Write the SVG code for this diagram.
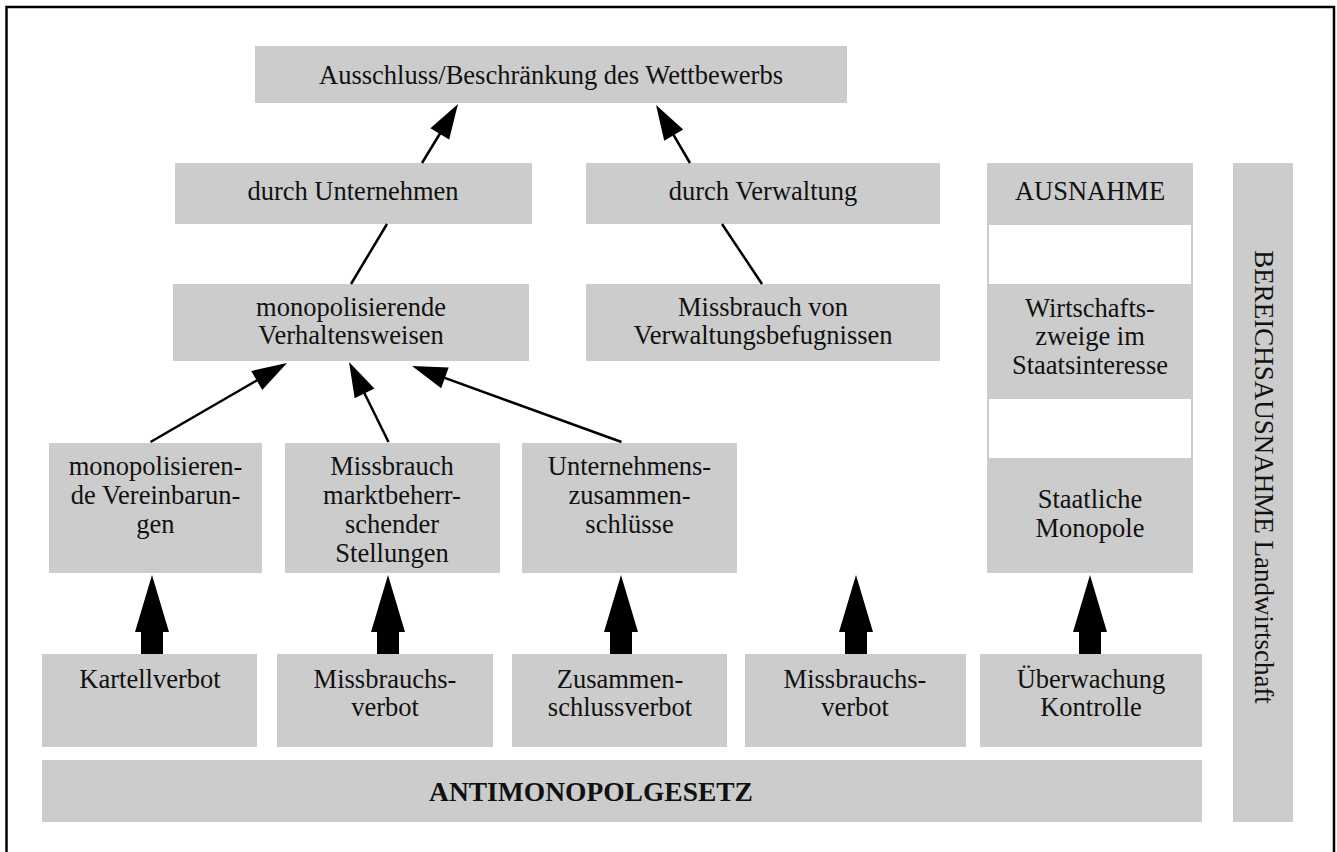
<svg xmlns="http://www.w3.org/2000/svg" xmlns:xlink="http://www.w3.org/1999/xlink" width="1337" height="852" viewBox="0 0 1337 852">
<style>
.box{fill:#cccccc}
.t{font-family:"Liberation Serif","Times New Roman",serif;font-size:26.5px;fill:#111;text-anchor:middle}
.b{font-weight:bold;font-size:27.5px}
.ln{stroke:#000;stroke-width:2.5;fill:none}
</style>
<defs>
<marker id="ah" markerUnits="userSpaceOnUse" viewBox="0 -11 34 22" markerWidth="34" markerHeight="22" refX="0" refY="0" orient="auto" overflow="visible">
<path d="M-1,-11 L34,0 L-1,11 Z" fill="#000"/>
</marker>
<path id="thick" d="M-11,0 V-22 H-17 L0,-79 L17,-22 H11 V0 Z" fill="#000"/>
</defs>
<rect width="1337" height="852" fill="#fff"/>
<path d="M6.5,852 V7 H1334 V852" fill="none" stroke="#000" stroke-width="2.5"/>

<g id="n-top"><rect class="box" x="255" y="46" width="592" height="57"/><text class="t" x="551" y="84">Ausschluss/Beschränkung des Wettbewerbs</text></g>
<g id="n-durchU"><rect class="box" x="175" y="163" width="357" height="61"/><text class="t" x="353" y="200">durch Unternehmen</text></g>
<g id="n-durchV"><rect class="box" x="586" y="163" width="354" height="61"/><text class="t" x="763" y="200">durch Verwaltung</text></g>
<g id="n-monoV"><rect class="box" x="173" y="284" width="356" height="77"/><text class="t" x="351" y="316">monopolisierende</text><text class="t" x="351" y="344">Verhaltensweisen</text></g>
<g id="n-missV"><rect class="box" x="586" y="284" width="354" height="77"/><text class="t" x="763" y="316">Missbrauch von</text><text class="t" x="763" y="344">Verwaltungsbefugnissen</text></g>

<g id="n-ausnahme">
<rect class="box" x="987" y="163" width="206" height="410"/>
<rect x="989" y="225" width="202" height="59" fill="#fff"/>
<rect x="989" y="399" width="202" height="59" fill="#fff"/>
<text class="t" x="1090" y="200">AUSNAHME</text>
<text class="t" x="1090" y="317">Wirtschafts-</text><text class="t" x="1090" y="345">zweige im</text><text class="t" x="1090" y="374">Staatsinteresse</text>
<text class="t" x="1090" y="508">Staatliche</text><text class="t" x="1090" y="537">Monopole</text>
</g>
<g id="n-bereich"><rect class="box" x="1233" y="163" width="60" height="659"/><text class="t" style="font-size:27px" transform="translate(1263,477) rotate(90)" x="0" y="8">BEREICHSAUSNAHME Landwirtschaft</text></g>

<g id="n-vereinb"><rect class="box" x="49" y="443" width="213" height="130"/><text class="t" x="155.5" y="475">monopolisieren-</text><text class="t" x="155.5" y="504">de Vereinbarun-</text><text class="t" x="155.5" y="533">gen</text></g>
<g id="n-missM"><rect class="box" x="285" y="443" width="215" height="130"/><text class="t" x="392" y="475">Missbrauch</text><text class="t" x="392" y="504">marktbeherr-</text><text class="t" x="392" y="533">schender</text><text class="t" x="392" y="562">Stellungen</text></g>
<g id="n-zus"><rect class="box" x="522" y="443" width="215" height="130"/><text class="t" x="629.5" y="475">Unternehmens-</text><text class="t" x="629.5" y="504">zusammen-</text><text class="t" x="629.5" y="533">schlüsse</text></g>

<g id="n-kartell"><rect class="box" x="42" y="654" width="215" height="93"/><text class="t" x="150" y="688">Kartellverbot</text></g>
<g id="n-missb1"><rect class="box" x="277" y="654" width="216" height="93"/><text class="t" x="385" y="688">Missbrauchs-</text><text class="t" x="385" y="716">verbot</text></g>
<g id="n-zusv"><rect class="box" x="512" y="654" width="215" height="93"/><text class="t" x="620" y="688">Zusammen-</text><text class="t" x="620" y="716">schlussverbot</text></g>
<g id="n-missb2"><rect class="box" x="745" y="654" width="221" height="93"/><text class="t" x="855" y="688">Missbrauchs-</text><text class="t" x="855" y="716">verbot</text></g>
<g id="n-ueber"><rect class="box" x="980" y="654" width="222" height="93"/><text class="t" x="1091" y="688">Überwachung</text><text class="t" x="1091" y="716">Kontrolle</text></g>
<g id="n-amg"><rect class="box" x="42" y="760" width="1160" height="62"/><text class="t b" x="591" y="801">ANTIMONOPOLGESETZ</text></g>

<g id="connectors">
<line class="ln" x1="422" y1="163" x2="440.3" y2="133" marker-end="url(#ah)"/>
<line class="ln" x1="690" y1="163" x2="673.2" y2="134.3" marker-end="url(#ah)"/>
<line class="ln" x1="387" y1="224" x2="351" y2="284"/>
<line class="ln" x1="722" y1="224" x2="762" y2="284"/>
<line class="ln" x1="150.5" y1="442" x2="257.6" y2="380" marker-end="url(#ah)"/>
<line class="ln" x1="388.5" y1="442" x2="364.1" y2="392.5" marker-end="url(#ah)"/>
<line class="ln" x1="621.5" y1="442" x2="444" y2="377.6" marker-end="url(#ah)"/>
<use xlink:href="#thick" x="152" y="654"/>
<use xlink:href="#thick" x="388" y="654"/>
<use xlink:href="#thick" x="621" y="654"/>
<use xlink:href="#thick" x="856" y="654"/>
<use xlink:href="#thick" x="1090" y="654"/>
</g>
</svg>
